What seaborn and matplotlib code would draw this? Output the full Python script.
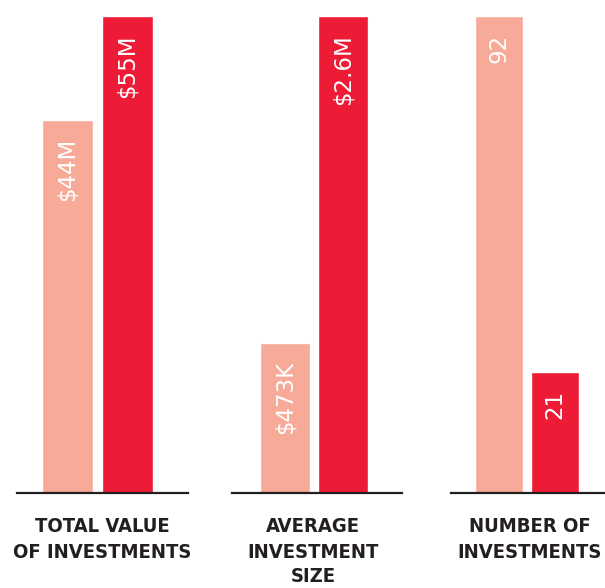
import matplotlib
matplotlib.use("Agg")
from matplotlib import pyplot as plt
import seaborn as sns
import pandas as pd

sns.set_style("white")
plt.rcParams['font.family'] = ['DejaVu Sans']

# data (bar heights as drawn in the chart, labels as printed)
categories = ["TOTAL VALUE\nOF INVESTMENTS", "AVERAGE\nINVESTMENT\nSIZE", "NUMBER OF\nINVESTMENTS"]
series = ["first", "second"]
heights = [[43.0, 55.0], [0.82, 2.6], [92.0, 23.4]]
bar_labels = [["$44M", "$55M"], ["$473K", "$2.6M"], ["92", "21"]]

colors = ["#F7AA98", "#ED1B36"]
line_color = "#231F20"

W, H = 605, 588
fig = plt.figure(figsize=(W / 100, H / 100), dpi=100)

# layout in pixels: axes left, width, bar spacing, bar width, first bar center, label center
layout = [(17, 171, 60, 51, 67.5, 102), (232, 170, 58, 50, 285, 313), (451, 171, 56, 48, 499, 530)]
base_y, top_y = 493, 16

for i, cat in enumerate(categories):
    left, width, sp, bw, c0, cx = layout[i]
    ax = fig.add_axes([left / W, (H - base_y) / H, width / W, (base_y - top_y) / H])
    df = pd.DataFrame({"series": series, "value": heights[i]})
    sns.barplot(data=df, x="series", y="value", hue="series", palette=colors,
                width=bw / sp, legend=False, ax=ax, saturation=1)
    ax.set_ylim(0, max(heights[i]))
    x0 = -(c0 - left) / sp
    ax.set_xlim(x0, x0 + width / sp)
    for s in ["top", "right", "left"]:
        ax.spines[s].set_visible(False)
    ax.spines["bottom"].set_color(line_color)
    ax.spines["bottom"].set_linewidth(1.6)
    ax.set_xticks([])
    ax.set_yticks([])
    ax.set_xlabel("")
    ax.set_ylabel("")
    for j, lab in enumerate(bar_labels[i]):
        ax.annotate(lab, (j, heights[i][j]), xytext=(0, -13), textcoords="offset points",
                    rotation=90, rotation_mode="anchor", ha="right", va="center",
                    color="white", fontsize=16.5)
    for k, line in enumerate(cat.split("\n")):
        fig.text(cx / W, 1 - (527 + 25 * k) / H, line, ha="center", va="center",
                 fontsize=14.5, fontweight="bold", fontstretch="condensed", color=line_color,
                 family=["DejaVu Sans"])

fig.savefig("out.png", dpi=100)
